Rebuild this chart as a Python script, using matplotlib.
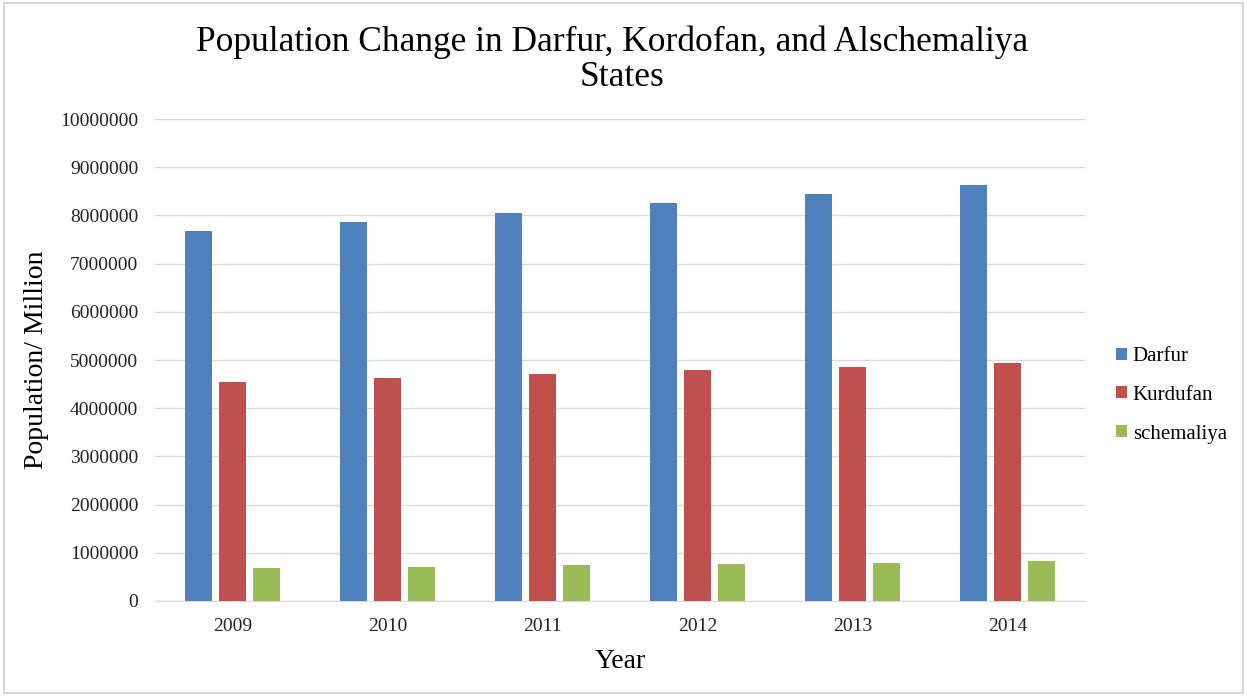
import numpy as np
import matplotlib.pyplot as plt
from matplotlib.patches import Rectangle
from matplotlib.ticker import MultipleLocator, FuncFormatter

# population per year, read as whole persons
years = ["2009", "2010", "2011", "2012", "2013", "2014"]
darfur = [7680000, 7860000, 8050000, 8250000, 8450000, 8640000]
kurdufan = [4540000, 4620000, 4710000, 4790000, 4850000, 4930000]
schemaliya = [680000, 710000, 740000, 770000, 790000, 820000]

series = [
    ("Darfur", darfur, "#4f81bd"),
    ("Kurdufan", kurdufan, "#c0504d"),
    ("schemaliya", schemaliya, "#9bbb59"),
]

plt.rcParams["font.family"] = ["Liberation Serif", "DejaVu Serif"]

fig = plt.figure(figsize=(12.47, 6.96), dpi=100)
ax = fig.add_axes([0.1243, 0.1365, 0.7457, 0.6925])

x = np.arange(len(years))
width = 0.175
step = 0.218
for i, (label, vals, color) in enumerate(series):
    ax.bar(x + (i - 1) * step, vals, width, color=color, label=label, zorder=3)

ax.set_xlim(-0.5, len(years) - 0.5)
ax.set_ylim(0, 10000000)
ax.yaxis.set_major_locator(MultipleLocator(1000000))
ax.yaxis.set_major_formatter(FuncFormatter(lambda v, _: f"{int(v)}"))
ax.set_xticks(x)
ax.set_xticklabels(years)
ax.tick_params(axis="both", length=0, labelsize=14, colors="#222222")
ax.tick_params(axis="x", pad=12)
ax.tick_params(axis="y", pad=12)
ax.grid(axis="y", color="#d9d9d9", linewidth=1.0, zorder=0)

for side in ["top", "right", "left"]:
    ax.spines[side].set_visible(False)
ax.spines["bottom"].set_color("#d9d9d9")

ax.set_xlabel("Year", fontsize=20, labelpad=10)
ax.set_ylabel("Population/ Million", fontsize=20, labelpad=8)

# two-line title, second line sits slightly right of centre
fig.text(0.491, 0.94, "Population Change in Darfur, Kordofan, and Alschemaliya",
         ha="center", va="center", fontsize=25.5)
fig.text(0.499, 0.888, "States", ha="center", va="center", fontsize=25.5)

handles, labels = ax.get_legend_handles_labels()
fig.legend(handles, labels, loc="center left", bbox_to_anchor=(0.88, 0.432),
           frameon=False, fontsize=15, handlelength=0.5, handleheight=0.5,
           handletextpad=0.3, labelspacing=0.95)

# thin frame around the whole chart
fig.add_artist(Rectangle((0.003, 0.004), 0.994, 0.992, transform=fig.transFigure,
                         fill=False, edgecolor="#cfcfcf", linewidth=1.2))

fig.savefig("out.png", dpi=100)
